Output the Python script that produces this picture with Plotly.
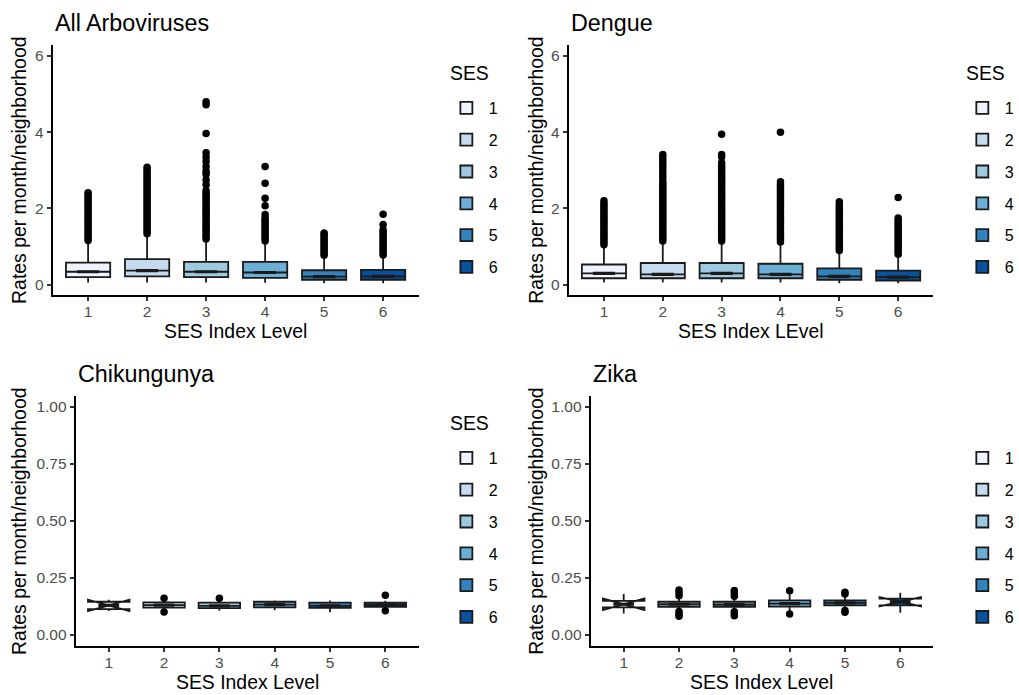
import plotly.graph_objects as go

W, H = 1019, 695

ses_levels = ["1", "2", "3", "4", "5", "6"]
ses_colors = ["#EFF3FF", "#C6DBEF", "#9ECAE1", "#6BAED6", "#3182BD", "#08519C"]

panel_titles = ["All Arboviruses", "Dengue", "Chikungunya", "Zika"]
x_titles = ["SES Index Level", "SES Index LEvel", "SES Index Level", "SES Index Level"]
y_title = "Rates per month/neighborhood"
legend_titles = ["SES", "SES", "SES", ""]

# ---- All Arboviruses ----
arbo_q1 = [0.20, 0.22, 0.20, 0.18, 0.13, 0.13]
arbo_median = [0.34, 0.37, 0.34, 0.32, 0.21, 0.22]
arbo_q3 = [0.58, 0.67, 0.60, 0.60, 0.38, 0.39]
arbo_lower = [0.06, 0.06, 0.06, 0.05, 0.04, 0.04]
arbo_upper = [1.12, 1.31, 1.18, 1.13, 0.74, 0.76]
arbo_notch = [0, 0, 0, 0, 0, 0]
arbo_outliers = [
    [1.16, 1.22, 1.28, 1.34, 1.40, 1.46, 1.52, 1.58, 1.64, 1.70, 1.76, 1.82,
     1.88, 1.94, 2.00, 2.06, 2.12, 2.18, 2.24, 2.30, 2.36, 2.41],
    [1.34, 1.40, 1.46, 1.52, 1.58, 1.64, 1.70, 1.76, 1.82, 1.88, 1.94, 2.00,
     2.06, 2.12, 2.18, 2.24, 2.30, 2.36, 2.42, 2.48, 2.54, 2.60, 2.66, 2.72,
     2.78, 2.84, 2.90, 2.96, 3.02, 3.08],
    [1.20, 1.26, 1.32, 1.38, 1.44, 1.50, 1.56, 1.62, 1.68, 1.74, 1.80, 1.86,
     1.92, 1.98, 2.04, 2.10, 2.16, 2.22, 2.28, 2.34, 2.40, 2.47, 2.62, 2.75,
     2.90, 2.98, 3.10, 3.23, 3.35, 3.46, 3.97, 4.72, 4.80],
    [1.15, 1.21, 1.27, 1.33, 1.39, 1.45, 1.51, 1.57, 1.63, 1.69, 1.75, 1.84,
     2.07, 2.27, 2.66, 3.10],
    [0.77, 0.83, 0.89, 0.95, 1.01, 1.07, 1.13, 1.19, 1.25, 1.31, 1.36],
    [0.78, 0.84, 0.90, 0.96, 1.02, 1.08, 1.14, 1.20, 1.26, 1.32, 1.38, 1.44,
     1.58, 1.85],
]

# ---- Dengue ----
den_q1 = [0.17, 0.17, 0.17, 0.17, 0.13, 0.11]
den_median = [0.30, 0.27, 0.30, 0.27, 0.22, 0.20]
den_q3 = [0.53, 0.57, 0.57, 0.55, 0.43, 0.37]
den_lower = [0.06, 0.06, 0.06, 0.06, 0.04, 0.04]
den_upper = [1.03, 1.13, 1.13, 1.10, 0.88, 0.78]
den_notch = [0, 0, 0, 0, 0, 0]
den_outliers = [
    [1.05, 1.11, 1.17, 1.23, 1.29, 1.35, 1.41, 1.47, 1.53, 1.59, 1.65, 1.71,
     1.77, 1.83, 1.89, 1.95, 2.01, 2.07, 2.13, 2.20],
    [1.15, 1.21, 1.27, 1.33, 1.39, 1.45, 1.51, 1.57, 1.63, 1.69, 1.75, 1.81,
     1.87, 1.93, 1.99, 2.05, 2.11, 2.17, 2.23, 2.29, 2.35, 2.41, 2.47, 2.53,
     2.59, 2.65, 2.71, 2.80, 2.88, 2.96, 3.04, 3.12, 3.20, 3.28, 3.35, 3.42],
    [1.15, 1.21, 1.27, 1.33, 1.39, 1.45, 1.51, 1.57, 1.63, 1.69, 1.75, 1.81,
     1.87, 1.93, 1.99, 2.05, 2.11, 2.17, 2.23, 2.29, 2.35, 2.41, 2.47, 2.53,
     2.59, 2.65, 2.71, 2.77, 2.83, 2.89, 2.95, 3.01, 3.07, 3.13, 3.20, 3.35,
     3.42, 3.95],
    [1.12, 1.18, 1.24, 1.30, 1.36, 1.42, 1.48, 1.54, 1.60, 1.66, 1.72, 1.78,
     1.84, 1.90, 1.96, 2.02, 2.08, 2.14, 2.20, 2.26, 2.32, 2.38, 2.44, 2.50,
     2.56, 2.62, 2.70, 4.00],
    [0.90, 0.96, 1.02, 1.08, 1.14, 1.20, 1.26, 1.32, 1.38, 1.44, 1.50, 1.56,
     1.62, 1.68, 1.74, 1.80, 1.86, 1.92, 1.98, 2.04, 2.10, 2.18],
    [0.80, 0.86, 0.92, 0.98, 1.04, 1.10, 1.16, 1.22, 1.28, 1.34, 1.40, 1.46,
     1.52, 1.58, 1.64, 1.70, 1.75, 2.29],
]

# ---- Chikungunya ----
chik_q1 = [0.114, 0.120, 0.118, 0.121, 0.119, 0.124]
chik_median = [0.130, 0.131, 0.128, 0.133, 0.128, 0.132]
chik_q3 = [0.146, 0.143, 0.142, 0.146, 0.142, 0.142]
chik_lower = [0.112, 0.112, 0.107, 0.109, 0.100, 0.115]
chik_upper = [0.148, 0.150, 0.150, 0.152, 0.152, 0.150]
chik_notch = [0.025, 0, 0, 0, 0, 0]
chik_outliers = [[], [0.161, 0.101], [0.161], [], [], [0.174, 0.106]]

# ---- Zika ----
zika_q1 = [0.121, 0.124, 0.124, 0.125, 0.130, 0.130]
zika_median = [0.135, 0.135, 0.134, 0.138, 0.141, 0.146]
zika_q3 = [0.150, 0.146, 0.146, 0.152, 0.152, 0.160]
zika_lower = [0.095, 0.110, 0.110, 0.105, 0.112, 0.098]
zika_upper = [0.180, 0.160, 0.160, 0.180, 0.170, 0.185]
zika_notch = [0.025, 0, 0, 0, 0, 0.020]
zika_outliers = [
    [],
    [0.197, 0.185, 0.172, 0.103, 0.092, 0.082],
    [0.195, 0.183, 0.170, 0.102, 0.092, 0.085],
    [0.194, 0.092],
    [0.188, 0.180, 0.108, 0.100],
    [],
]

panels = [
    (arbo_q1, arbo_median, arbo_q3, arbo_lower, arbo_upper, arbo_notch, arbo_outliers),
    (den_q1, den_median, den_q3, den_lower, den_upper, den_notch, den_outliers),
    (chik_q1, chik_median, chik_q3, chik_lower, chik_upper, chik_notch, chik_outliers),
    (zika_q1, zika_median, zika_q3, zika_lower, zika_upper, zika_notch, zika_outliers),
]

# ---- layout geometry (pixels) ----
panel_px = [(53, 421, 45, 295), (572, 939, 45, 295), (76, 421, 396, 646), (594, 939, 396, 646)]
legend_px = [(446.5, 91), (965.5, 91), (446.5, 441), (965.5, 441)]
legend_title_px = [(451, 73), (970, 73), (451, 423), (970, 423)]
yranges = [[-0.27, 6.29], [-0.27, 6.29], [-0.048, 1.048], [-0.048, 1.048]]
ytickvals = [[0, 2, 4, 6], [0, 2, 4, 6], [0, 0.25, 0.5, 0.75, 1.0], [0, 0.25, 0.5, 0.75, 1.0]]
yticktext = [["0", "2", "4", "6"], ["0", "2", "4", "6"],
             ["0.00", "0.25", "0.50", "0.75", "1.00"], ["0.00", "0.25", "0.50", "0.75", "1.00"]]

FONT = "Liberation Sans, Arial, sans-serif"
BOX_W = 0.75
LINE_C = "#1a1a1a"
fig = go.Figure()

for p, (q1, med, q3, lo, hi, nspan, outl) in enumerate(panels):
    ax = "" if p == 0 else str(p + 1)
    leg = "legend" if p == 0 else f"legend{p + 1}"
    for i, lev in enumerate(ses_levels):
        xpos = i + 1
        box = dict(
            x=[xpos], q1=[q1[i]], median=[med[i]], q3=[q3[i]],
            lowerfence=[lo[i]], upperfence=[hi[i]],
            width=BOX_W, whiskerwidth=0,
            fillcolor=ses_colors[i], line=dict(color=LINE_C, width=1.8),
            boxpoints=False, name=lev, legend=leg, legendgroup=f"p{p}_{lev}",
            xaxis="x" + ax, yaxis="y" + ax, hoverinfo="skip",
        )
        if nspan[i] > 0:
            box.update(notched=True, notchspan=[nspan[i]], notchwidth=0.5)
        fig.add_trace(go.Box(**box))
        # thick median bar (ggplot fatten=2 over the notch width)
        fig.add_trace(go.Box(
            x=[xpos], q1=[med[i]], median=[med[i]], q3=[med[i]],
            lowerfence=[med[i]], upperfence=[med[i]],
            width=BOX_W / 2, whiskerwidth=0, fillcolor=LINE_C,
            line=dict(color=LINE_C, width=3.2), boxpoints=False,
            showlegend=False, hoverinfo="skip",
            xaxis="x" + ax, yaxis="y" + ax,
        ))
        if outl[i]:
            fig.add_trace(go.Scatter(
                x=[xpos] * len(outl[i]), y=outl[i], mode="markers",
                marker=dict(color="black", size=7.5),
                showlegend=False, hoverinfo="skip",
                xaxis="x" + ax, yaxis="y" + ax,
            ))

layout = dict(
    width=W, height=H, margin=dict(l=0, r=0, t=0, b=0),
    paper_bgcolor="white", plot_bgcolor="white",
    boxmode="overlay", font=dict(family=FONT, color="black"),
    annotations=[],
)

axis_common = dict(showline=True, linecolor="black", linewidth=1.8, ticks="outside",
                   ticklen=4, tickwidth=1.5, tickcolor="#333333", showgrid=False,
                   zeroline=False, tickfont=dict(size=15.5, color="#4D4D4D", family=FONT))

for p in range(4):
    l, r, t, b = panel_px[p]
    ax = "" if p == 0 else str(p + 1)
    layout["xaxis" + ax] = dict(
        domain=[l / W, r / W], anchor="y" + ax, range=[0.4, 6.6],
        tickvals=[1, 2, 3, 4, 5, 6], ticktext=ses_levels, ticklabelstandoff=-3,
        **axis_common)
    layout["yaxis" + ax] = dict(
        domain=[1 - b / H, 1 - t / H], anchor="x" + ax, range=yranges[p],
        tickvals=ytickvals[p], ticktext=yticktext[p], **axis_common)
    lx, ly = legend_px[p]
    leg = "legend" if p == 0 else f"legend{p + 1}"
    layout[leg] = dict(x=lx / W, y=1 - ly / H, xanchor="left", yanchor="top",
                       xref="paper", yref="paper", bgcolor="rgba(0,0,0,0)",
                       font=dict(size=16, family=FONT, color="black"),
                       tracegroupgap=8, traceorder="grouped", itemwidth=35)
    if legend_titles[p]:
        tx, ty = legend_title_px[p]
        layout["annotations"].append(dict(
            text=legend_titles[p], x=tx / W, y=1 - ty / H, xref="paper", yref="paper",
            xanchor="left", yanchor="middle", showarrow=False,
            font=dict(size=19.4, family=FONT, color="black")))
    # panel title
    layout["annotations"].append(dict(
        text=panel_titles[p], x=l / W, y=1 - (t - 22) / H, xref="paper", yref="paper",
        xanchor="left", yanchor="middle", showarrow=False,
        font=dict(size=23.3, family=FONT, color="black")))
    # x-axis title
    layout["annotations"].append(dict(
        text=x_titles[p], x=(l + r) / 2 / W, y=1 - (b + 36) / H, xref="paper", yref="paper",
        xanchor="center", yanchor="middle", showarrow=False,
        font=dict(size=19.4, family=FONT, color="black")))
    # y-axis title
    layout["annotations"].append(dict(
        text=y_title, x=(19 if l < 500 else 539) / W, y=1 - (t + b) / 2 / H,
        xref="paper", yref="paper", xanchor="center", yanchor="middle",
        textangle=-90, showarrow=False,
        font=dict(size=19.4, family=FONT, color="black")))

fig.update_layout(**layout)
fig.write_html("out.html")
